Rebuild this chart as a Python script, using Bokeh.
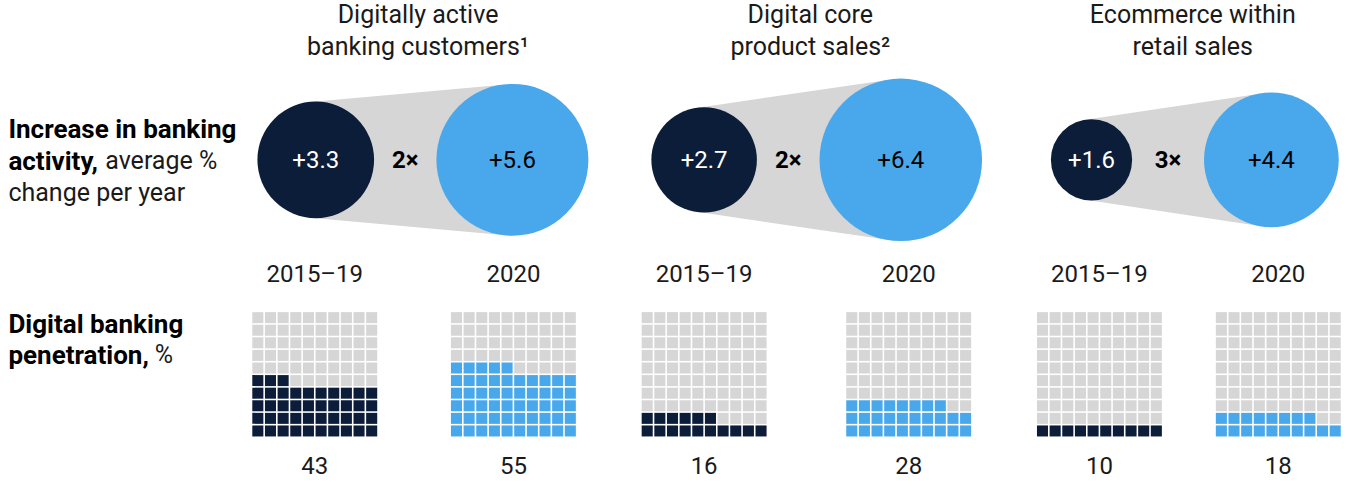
import math
from bokeh.plotting import figure
from bokeh.models import Range1d, ColumnDataSource
from bokeh.core.properties import value
from bokeh.embed import file_html
from bokeh.resources import INLINE

# ---------------- data ----------------
title_line1 = ["Digitally active", "Digital core", "Ecommerce within"]
title_line2 = ["banking customers¹", "product sales²", "retail sales"]
periods = ["2015–19", "2020"]
growth_2015_19 = [3.3, 2.7, 1.6]
growth_2020 = [5.6, 6.4, 4.4]
multipliers = ["2×", "2×", "3×"]
penetration_2015_19 = [43, 16, 10]
penetration_2020 = [55, 28, 18]

# ---------------- style / layout ----------------
NAVY = "#0b1d38"
BLUE = "#49a8eb"
GREY = "#d6d6d6"
TEXT = "#1a1a1a"
FONT = value("Roboto")

circle_x = [(323, 522), (716, 915), (1108, 1290)]
circle_y = 171
grid_x = [(322, 523), (716, 923), (1116, 1297)]
R_SCALE = 32.5          # radius = R_SCALE * sqrt(value)  (area-proportional)
PITCH = 12.8
CELL = 11.2
GRID_BOTTOM = 453

p = figure(width=1344, height=482,
           x_range=Range1d(4, 1364), y_range=Range1d(499, 9),
           output_backend="svg", toolbar_location=None,
           x_axis_location=None, y_axis_location=None,
           min_border=0, outline_line_color=None,
           background_fill_color="white", border_fill_color="white")
p.xgrid.visible = False
p.ygrid.visible = False


def txt(x, y, s, size="24px", color=TEXT, style="normal", align="center"):
    p.text(x=[x], y=[y], text=[s], text_font=FONT, text_font_size=size,
           text_color=color, text_font_style=style, text_align=align,
           text_baseline="middle")


# connectors (external tangents) + circles
for i in range(3):
    x1, x2 = circle_x[i]
    r1 = R_SCALE * math.sqrt(growth_2015_19[i])
    r2 = R_SCALE * math.sqrt(growth_2020[i])
    d = x2 - x1
    nx = -(r2 - r1) / d
    ny = math.sqrt(1 - nx * nx)
    xs = [x1 + r1 * nx, x2 + r2 * nx, x2 + r2 * nx, x1 + r1 * nx]
    ys = [circle_y - r1 * ny, circle_y - r2 * ny, circle_y + r2 * ny, circle_y + r1 * ny]
    p.patch(xs, ys, fill_color=GREY, line_color=None)
    p.circle(x=[x1], y=[circle_y], radius=[r1], fill_color=NAVY, line_color=None)
    p.circle(x=[x2], y=[circle_y], radius=[r2], fill_color=BLUE, line_color=None)
    txt(x1, circle_y, f"+{growth_2015_19[i]}", color="white")
    txt(x2, circle_y, f"+{growth_2020[i]}", color="black")
    mid = ((x1 + r1) + (x2 - r2)) / 2
    txt(mid, circle_y, multipliers[i], color="black", style="bold")

    # titles
    tc = (grid_x[i][0] + grid_x[i][1]) / 2 + 4
    txt(tc, 23, title_line1[i], size="25px")
    txt(tc, 56, title_line2[i], size="25px")

# waffles
cx, cy, cc = [], [], []
for i in range(3):
    for j, vals in enumerate([penetration_2015_19, penetration_2020]):
        gx = grid_x[i][j]
        left = gx - 5 * PITCH
        fill = NAVY if j == 0 else BLUE
        for k in range(100):
            row, col = divmod(k, 10)
            cx.append(left + (col + 0.5) * PITCH)
            cy.append(GRID_BOTTOM - (row + 0.5) * PITCH)
            cc.append(fill if k < vals[i] else GREY)
        txt(gx, 287, periods[j])
        txt(gx, 482, str(vals[i]))

p.rect(x="x", y="y", width=CELL, height=CELL, fill_color="c", line_color=None,
       source=ColumnDataSource(dict(x=cx, y=cy, c=cc)))

# left labels
txt(12, 140, "Increase in banking", size="26px", color="black", style="bold", align="left")
txt(12, 172, "activity,", size="26px", color="black", style="bold", align="left")
txt(110, 172, "average %", size="25px", color=TEXT, align="left")
txt(12, 204, "change per year", size="25px", color=TEXT, align="left")
txt(12, 338, "Digital banking", size="26px", color="black", style="bold", align="left")
txt(12, 369, "penetration,", size="26px", color="black", style="bold", align="left")
txt(160, 369, "%", size="25px", color=TEXT, align="left")

open("out.html", "w").write(file_html(p, INLINE))
